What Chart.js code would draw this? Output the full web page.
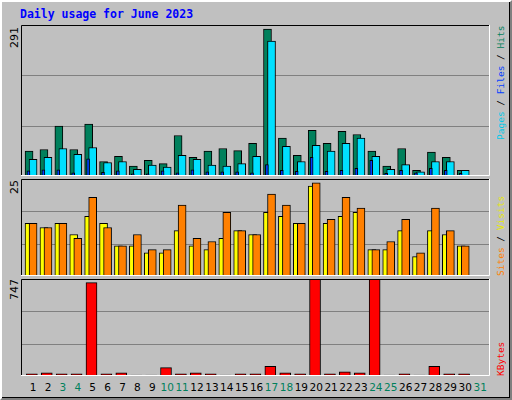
<!DOCTYPE html>
<html><head><meta charset="utf-8">
<script src="https://cdn.jsdelivr.net/npm/chart.js@4"></script>
<style>
body{margin:0;width:512px;height:400px;overflow:hidden;background:#fff}
#frame{position:absolute;left:0;top:0;width:508px;height:396px;background:#c0c0c0;border-top:2px solid #fff;border-left:2px solid #fff;border-right:2px solid #808080;border-bottom:2px solid #808080;box-shadow:inset -1px -1px 0 #000}
canvas{position:absolute}
.t{position:absolute;font-family:"DejaVu Sans Mono",monospace;white-space:nowrap}
.rot{position:absolute;font-family:"DejaVu Sans Mono",monospace;font-size:9.5px;white-space:nowrap;transform-origin:0 0;transform:rotate(-90deg)}
.rl{position:absolute;font-family:"DejaVu Sans",sans-serif;font-size:11px;white-space:nowrap;transform-origin:0 0;transform:rotate(-90deg)}
.day{position:absolute;top:381px;width:20px;margin-left:-10px;text-align:center;font-family:"DejaVu Sans",sans-serif;font-size:10.5px}
</style></head><body>
<div id="frame"></div>
<div class="t" style="left:20px;top:7px;font-weight:bold;font-size:11.5px;color:#0000ff">Daily usage for June 2023</div>
<canvas id="c1" width="469" height="151" style="left:21px;top:25px"></canvas>
<canvas id="c2" width="469" height="97" style="left:21px;top:179px"></canvas>
<canvas id="c3" width="469" height="97" style="left:21px;top:279px"></canvas>
<div class="rl" style="left:8px;top:48px">291</div>
<div class="rl" style="left:8px;top:194px">25</div>
<div class="rl" style="left:8px;top:300px">747</div>
<div class="rot" style="left:495px;top:140px"><span style="color:#00c8e8">Pages</span> / <span style="color:#0040ff">Files</span> / <span style="color:#00805c">Hits</span></div>
<div class="rot" style="left:495px;top:276px"><span style="color:#ff8000">Sites</span> / <span style="color:#e8e800">Visits</span></div>
<div class="rot" style="left:495px;top:376px;color:#ff0000">KBytes</div>
<div id="days"></div>
<script>
const days=[1,2,3,4,5,6,7,8,9,10,11,12,13,14,15,16,17,18,19,20,21,22,23,24,25,26,27,28,29,30,31];
const weekend=[3,4,10,11,17,18,24,25,31];
const hits=[48,51,96,51,100,28,38,19,30,24,78,36,48,53,49,63,283,73,40,88,63,86,80,48,19,53,11,46,36,11,0];
const files=[32,36,53,42,55,26,28,13,21,17,40,32,21,19,24,38,260,57,28,59,48,63,73,38,13,22,8,28,28,11,0];
const pages=[10,12,12,6,33,7,10,4,4,10,6,12,8,8,8,6,22,11,9,36,9,11,15,30,5,11,6,15,11,5,0];
const visits=[13.6,12.5,13.6,10.7,15.4,13.6,7.8,7.8,6,6,11.7,7.8,6.8,9.7,11.7,10.7,16.4,15.4,13.6,23.2,13.6,15.4,16.4,6.8,6.8,11.7,5,11.7,10.7,7.8,0];
const sites=[13.6,12.5,13.6,9.7,20.3,12.5,7.8,10.7,6.8,6.8,18.3,9.7,8.9,16.4,11.7,10.7,21.1,18.3,13.6,24,14.6,20.3,17.5,6.8,8.9,14.6,6,17.5,11.7,7.8,0];
const kbytes=[16,25,16,16,719,16,25,8,8,65,16,25,16,8,16,16,74,25,16,747,16,33,25,747,8,16,8,74,16,16,0];
const XMAX=31.47;
const panelPlugin={id:'panel',
 beforeDraw(c){const x=c.ctx,w=c.width,h=c.height;x.save();x.fillStyle='#c0c0c0';x.fillRect(0,0,w,h);
  x.strokeStyle='#808080';x.lineWidth=1;[1/3,2/3].forEach(f=>{const y=Math.round(h*f)+0.5;x.beginPath();x.moveTo(0,y);x.lineTo(w,y);x.stroke();});x.restore();},
 afterDraw(c){const x=c.ctx,w=c.width,h=c.height;x.save();x.lineWidth=1;
  x.strokeStyle='#000';x.beginPath();x.moveTo(0.5,h);x.lineTo(0.5,0.5);x.lineTo(w,0.5);x.stroke();
  x.strokeStyle='#fff';x.beginPath();x.moveTo(w-0.5,0);x.lineTo(w-0.5,h-0.5);x.lineTo(0,h-0.5);x.stroke();x.restore();}};
function ds(vals,off,color,th,order){return{data:days.map((d,i)=>({x:d+off,y:vals[i]})),backgroundColor:color,borderColor:'#000',borderWidth:1,barThickness:th,order:order,grouped:false};}
function mk(id,sets,max){new Chart(document.getElementById(id),{type:'bar',data:{datasets:sets},plugins:[panelPlugin],
 options:{responsive:false,animation:false,events:[],layout:{padding:0},plugins:{legend:{display:false},tooltip:{enabled:false}},
 scales:{x:{type:'linear',min:0,max:XMAX,offset:false,display:false},y:{min:0,max:max,display:false}}}});}
mk('c1',[ds(hits,-0.46,'#00805c',8,2),ds(files,-0.19,'#00e0ff',8,1),ds(pages,-0.5,'#0040ff',3,0)],291);
mk('c2',[ds(visits,-0.46,'#ffff00',8,1),ds(sites,-0.19,'#ff8000',8,0)],25);
mk('c3',[ds(kbytes,-0.27,'#ff0000',11,0)],747);
const dd=document.getElementById('days');
days.forEach(d=>{const s=document.createElement('div');s.className='day';s.textContent=d;
 s.style.left=(21+(d-0.19)*469/XMAX)+'px';s.style.color=weekend.includes(d)?'#00805c':'#000';dd.appendChild(s);});
</script></body></html>
